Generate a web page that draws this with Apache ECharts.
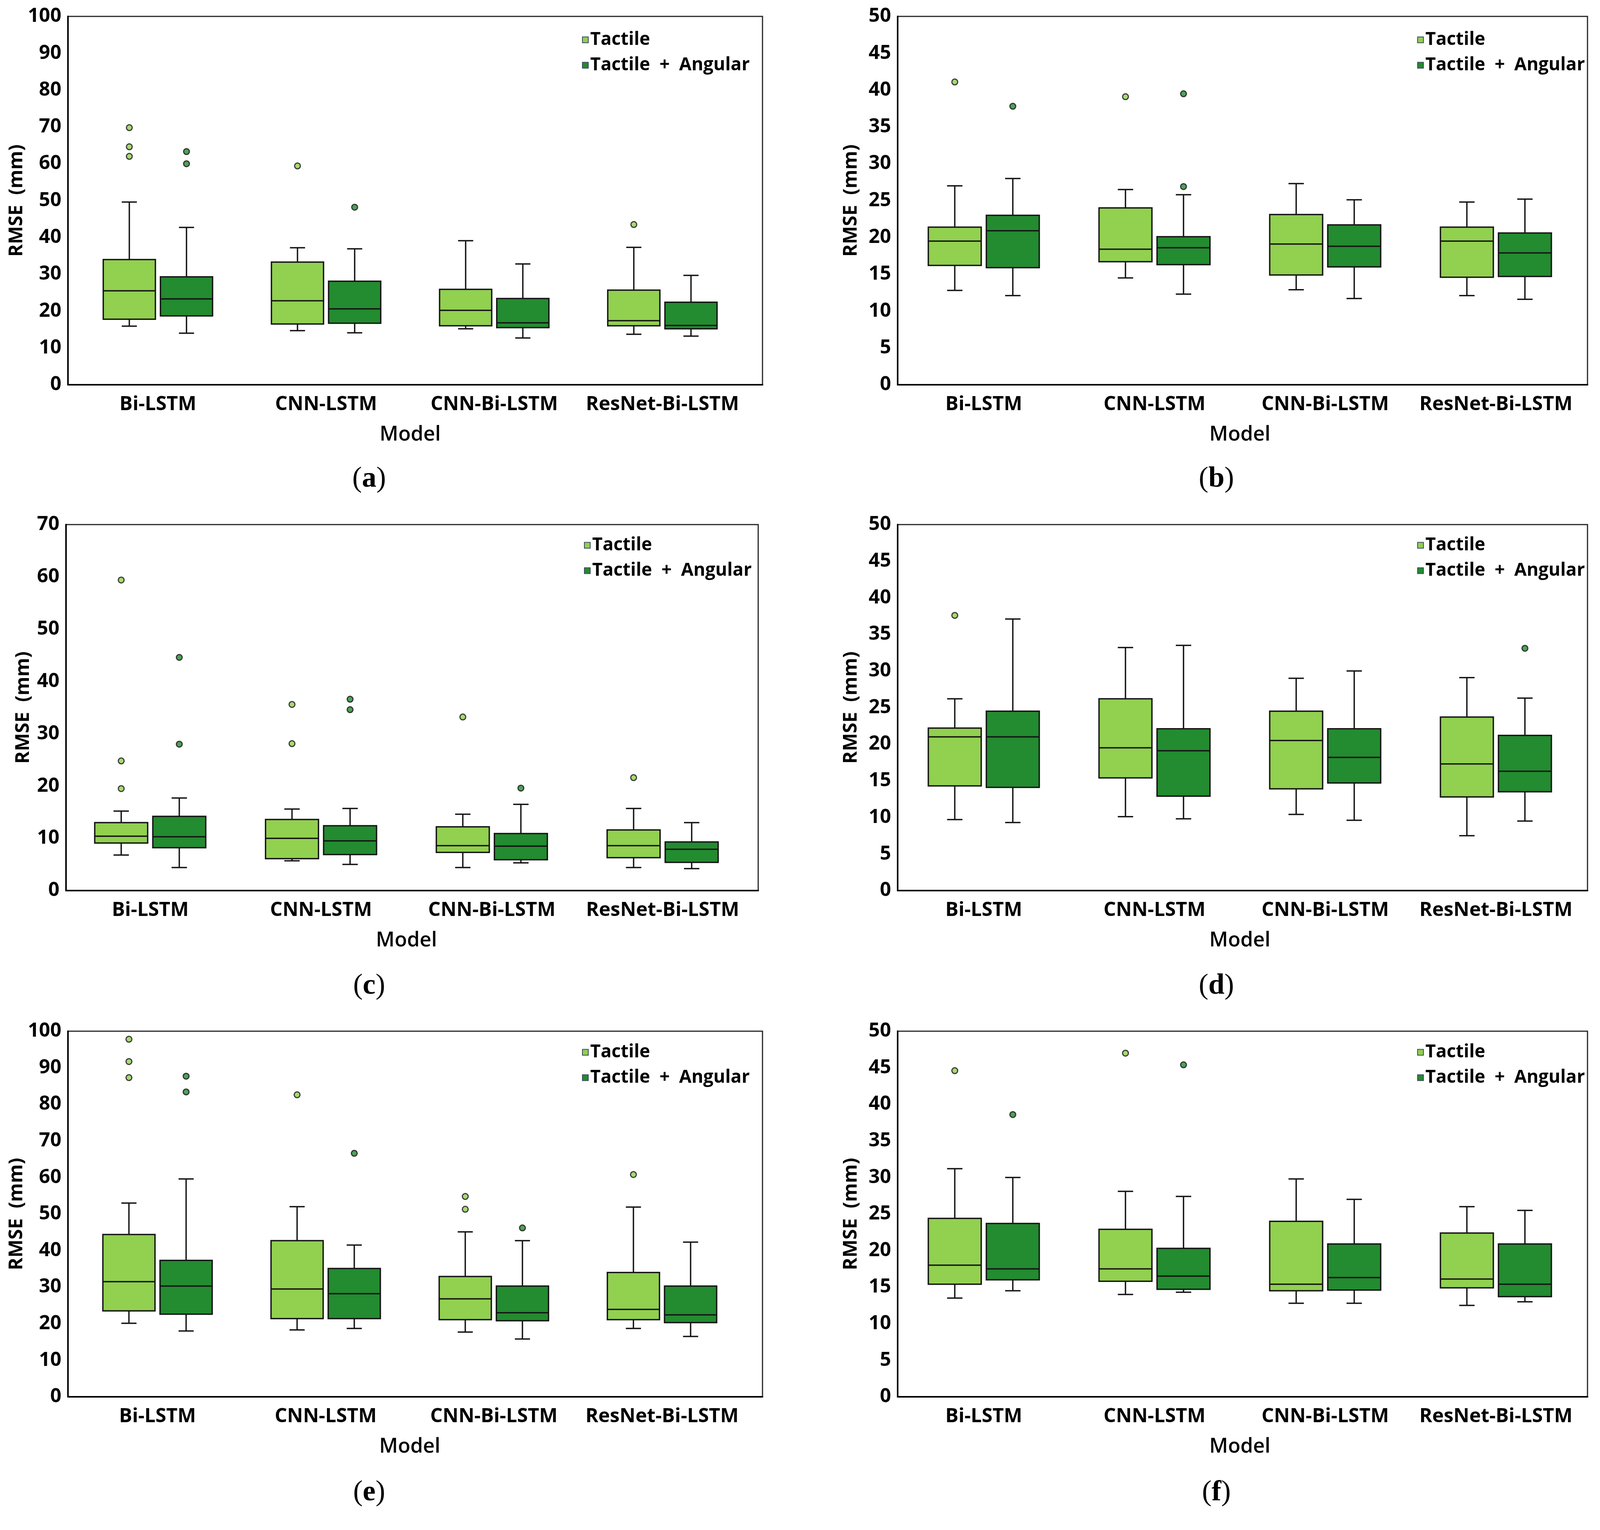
<!DOCTYPE html>
<html>
<head>
<meta charset="utf-8">
<script src="https://cdn.jsdelivr.net/npm/echarts@6/dist/echarts.min.js"></script>
<style>
html,body{margin:0;padding:0;background:#fff;}
#chart{width:4135px;height:3917px;}
</style>
</head>
<body>
<div id="chart"></div>
<script>
// ---------------- DATA ----------------
const categories = ['Bi-LSTM', 'CNN-LSTM', 'CNN-Bi-LSTM', 'ResNet-Bi-LSTM'];
const seriesNames = ['Tactile', 'Tactile + Angular'];
const panelLabels = ['a', 'b', 'c', 'd', 'e', 'f'];
const yMaxList = [100, 50, 70, 50, 100, 50];
const yStepList = [10, 5, 10, 5, 10, 5];

// each row: [lower whisker, Q1, median, Q3, upper whisker]
const aTactile = [[15.9,17.8,25.5,34.0,49.6],[14.7,16.5,22.8,33.3,37.2],[15.2,16.0,20.2,25.9,39.1],[13.7,16.0,17.4,25.7,37.3]];
const aTactileOut = [[69.8,64.6,62.0],[59.4],[],[43.5]];
const aAngular = [[14.0,18.7,23.3,29.3,42.7],[14.1,16.7,20.6,28.1,36.9],[12.7,15.5,16.8,23.4,32.8],[13.2,15.2,16.1,22.4,29.7]];
const aAngularOut = [[63.3,60.0],[48.2],[],[]];

const bTactile = [[12.8,16.2,19.5,21.4,27.0],[14.5,16.7,18.4,24.0,26.5],[12.9,14.9,19.1,23.1,27.3],[12.1,14.6,19.5,21.4,24.8]];
const bTactileOut = [[41.1],[39.1],[],[]];
const bAngular = [[12.1,15.9,20.9,23.0,28.0],[12.3,16.3,18.6,20.1,25.8],[11.7,16.0,18.8,21.7,25.1],[11.6,14.7,17.9,20.6,25.2]];
const bAngularOut = [[37.8],[39.5,26.9],[],[]];

const cTactile = [[6.8,9.1,10.4,13.0,15.2],[5.7,6.1,10.0,13.6,15.6],[4.4,7.3,8.6,12.2,14.6],[4.4,6.3,8.6,11.6,15.7]];
const cTactileOut = [[59.4,24.8,19.5],[35.6,28.1],[33.2],[21.6]];
const cAngular = [[4.4,8.2,10.3,14.2,17.7],[5.0,6.9,9.5,12.4,15.7],[5.3,5.9,8.5,10.9,16.5],[4.2,5.4,7.9,9.3,13.0]];
const cAngularOut = [[44.6,28.0],[36.6,34.6],[19.6],[]];

const dTactile = [[9.7,14.3,21.0,22.2,26.2],[10.1,15.4,19.5,26.2,33.2],[10.4,13.9,20.5,24.5,29.0],[7.5,12.8,17.3,23.7,29.1]];
const dTactileOut = [[37.6],[],[],[]];
const dAngular = [[9.3,14.1,21.0,24.5,37.1],[9.8,12.9,19.1,22.1,33.5],[9.6,14.7,18.2,22.1,30.0],[9.5,13.5,16.3,21.2,26.3]];
const dAngularOut = [[],[],[],[33.1]];

const eTactile = [[20.1,23.5,31.5,44.4,53.0],[18.3,21.4,29.5,42.7,52.0],[17.7,21.1,26.8,32.9,45.1],[18.7,21.1,23.9,34.0,51.9]];
const eTactileOut = [[97.8,91.7,87.3],[82.6],[54.8,51.3],[60.8]];
const eAngular = [[18.0,22.6,30.3,37.3,59.6],[18.7,21.4,28.2,35.1,41.5],[15.8,20.8,23.0,30.3,42.7],[16.5,20.3,22.4,30.3,42.3]];
const eAngularOut = [[87.7,83.4],[66.6],[46.2],[]];

const fTactile = [[13.5,15.4,18.0,24.4,31.2],[14.0,15.8,17.5,22.9,28.1],[12.8,14.5,15.4,24.0,29.8],[12.5,14.9,16.1,22.4,26.0]];
const fTactileOut = [[44.6],[47.0],[],[]];
const fAngular = [[14.5,16.0,17.5,23.7,30.0],[14.3,14.7,16.5,20.3,27.4],[12.8,14.6,16.3,20.9,27.0],[13.0,13.7,15.4,20.9,25.5]];
const fAngularOut = [[38.6],[45.4],[],[]];

const panelBoxes = [
  [aTactile, aAngular], [bTactile, bAngular], [cTactile, cAngular],
  [dTactile, dAngular], [eTactile, eAngular], [fTactile, fAngular]
];
const panelOutliers = [
  [aTactileOut, aAngularOut], [bTactileOut, bAngularOut], [cTactileOut, cAngularOut],
  [dTactileOut, dAngularOut], [eTactileOut, eAngularOut], [fTactileOut, fAngularOut]
];

// ---------------- STYLE / LAYOUT ----------------
const colors = ['#92D050', '#238B30'];
const FONT = '"Open Sans", "Noto Sans", sans-serif';
// frame (plot area) and the category area inside it
const frames = [
  {left: 174,  top: 42,   width: 1778, height: 943, dataLeft: 189,  dataWidth: 1722},
  {left: 2298, top: 42,   width: 1766, height: 943, dataLeft: 2300, dataWidth: 1748},
  {left: 169,  top: 1343, width: 1772, height: 937, dataLeft: 166,  dataWidth: 1749},
  {left: 2298, top: 1343, width: 1766, height: 937, dataLeft: 2300, dataWidth: 1748},
  {left: 174,  top: 2640, width: 1778, height: 936, dataLeft: 188,  dataWidth: 1722},
  {left: 2298, top: 2640, width: 1766, height: 936, dataLeft: 2300, dataWidth: 1748}
];
const yNameGap = [100, 94, 84, 94, 100, 94];
const legendPos = [
  {left: 1485, top: 72},
  {left: 3623, top: 72},
  {left: 1490, top: 1366},
  {left: 3623, top: 1366},
  {left: 1485, top: 2664},
  {left: 3623, top: 2664}
];
const captionPos = [[945, 1227], [3114, 1227], [945, 2525], [3114, 2525], [945, 3822], [3114, 3822]];

const OFFSET_FRAC = 0.17;  // box center offset from category center (fraction of band)
const BOX_FRAC = 0.31;     // box width (fraction of band)
const CAP_FRAC = 0.09;     // whisker cap width (fraction of band)

function makeRenderItem(side, color) {
  return function (params, api) {
    const cat = api.value(0);
    const band = api.size([1, 0])[0];
    const pLo = api.coord([cat, api.value(1)]);
    const pQ1 = api.coord([cat, api.value(2)]);
    const pMed = api.coord([cat, api.value(3)]);
    const pQ3 = api.coord([cat, api.value(4)]);
    const pHi = api.coord([cat, api.value(5)]);
    const cx = pLo[0] + side * band * OFFSET_FRAC;
    const bw = band * BOX_FRAC;
    const cap = band * CAP_FRAC;
    const ls = {stroke: '#151515', lineWidth: 3.5, fill: null};
    return {
      type: 'group',
      children: [
        {type: 'line', shape: {x1: cx, y1: pHi[1], x2: cx, y2: pQ3[1]}, style: ls},
        {type: 'line', shape: {x1: cx, y1: pLo[1], x2: cx, y2: pQ1[1]}, style: ls},
        {type: 'line', shape: {x1: cx - cap / 2, y1: pHi[1], x2: cx + cap / 2, y2: pHi[1]}, style: ls},
        {type: 'line', shape: {x1: cx - cap / 2, y1: pLo[1], x2: cx + cap / 2, y2: pLo[1]}, style: ls},
        {type: 'rect', shape: {x: cx - bw / 2, y: pQ3[1], width: bw, height: pQ1[1] - pQ3[1]},
          style: {fill: color, stroke: '#151515', lineWidth: 3.5}},
        {type: 'line', shape: {x1: cx - bw / 2, y1: pMed[1], x2: cx + bw / 2, y2: pMed[1]}, style: ls}
      ]
    };
  };
}

const option = {
  backgroundColor: '#ffffff',
  animation: false,
  grid: [], xAxis: [], yAxis: [], series: [], legend: [], graphic: []
};

for (let p = 0; p < 6; p++) {
  const f = frames[p];
  const gFrame = 2 * p, gData = 2 * p + 1;
  // frame grid: border + y axis + bottom axis line
  option.grid.push({
    left: f.left, top: f.top, width: f.width, height: f.height,
    show: true, borderColor: '#262626', borderWidth: 3, containLabel: false
  });
  // data grid: category area
  option.grid.push({
    left: f.dataLeft, top: f.top, width: f.dataWidth, height: f.height,
    show: false, containLabel: false
  });
  option.xAxis.push({
    type: 'value', gridIndex: gFrame, min: 0, max: 1,
    axisLine: {show: true, lineStyle: {color: '#000', width: 4}},
    axisTick: {show: false}, axisLabel: {show: false}, splitLine: {show: false}
  });
  option.xAxis.push({
    type: 'category', gridIndex: gData, data: categories,
    axisLine: {show: false}, axisTick: {show: false}, splitLine: {show: false},
    axisLabel: {fontFamily: FONT, fontWeight: 'bold', fontSize: 50, color: '#000', margin: 26, interval: 0},
    name: 'Model', nameLocation: 'middle', nameGap: 102,
    nameTextStyle: {fontFamily: FONT, fontWeight: 600, fontSize: 52, color: '#000'}
  });
  option.yAxis.push({
    type: 'value', gridIndex: gFrame, min: 0, max: yMaxList[p], interval: yStepList[p],
    axisLine: {show: true, lineStyle: {color: '#000', width: 4}},
    axisTick: {show: false},
    splitLine: {show: false},
    axisLabel: {fontFamily: FONT, fontWeight: 'bold', fontSize: 50, color: '#000', margin: 17},
    name: 'RMSE  (mm)', nameLocation: 'middle', nameRotate: 90, nameGap: yNameGap[p],
    nameTextStyle: {fontFamily: FONT, fontWeight: 'bold', fontSize: 49, color: '#000'}
  });
  option.yAxis.push({
    type: 'value', gridIndex: gData, min: 0, max: yMaxList[p], interval: yStepList[p],
    show: false
  });
  const band = f.dataWidth / categories.length;
  for (let s = 0; s < 2; s++) {
    const side = s === 0 ? -1 : 1;
    const boxes = panelBoxes[p][s];
    option.series.push({
      type: 'custom', name: seriesNames[s], xAxisIndex: gData, yAxisIndex: gData,
      itemStyle: {color: colors[s]},
      renderItem: makeRenderItem(side, colors[s]),
      encode: {x: 0, y: [1, 2, 3, 4, 5]},
      data: boxes.map((b, i) => [i].concat(b)),
      z: 2
    });
    const outs = [];
    panelOutliers[p][s].forEach((arr, i) => arr.forEach(v => outs.push([i, v])));
    option.series.push({
      type: 'scatter', name: seriesNames[s], xAxisIndex: gData, yAxisIndex: gData,
      symbol: 'circle', symbolSize: 15,
      symbolOffset: [side * band * OFFSET_FRAC, 0],
      itemStyle: {color: colors[s], borderColor: '#151515', borderWidth: 3},
      data: outs, z: 3
    });
  }
  option.legend.push({
    orient: 'vertical', left: legendPos[p].left, top: legendPos[p].top,
    icon: 'rect', itemWidth: 15, itemHeight: 15, itemGap: 15,
    selectedMode: false,
    itemStyle: {borderColor: '#3b4a5e', borderWidth: 2},
    textStyle: {fontFamily: FONT, fontWeight: 'bold', fontSize: 46, color: '#000', lineHeight: 50},
    formatter: name => name.replace(' + ', '  +  '),
    data: seriesNames.map((n, i) => ({name: n, itemStyle: {color: colors[i]}}))
  });
  option.graphic.push({
    type: 'text', x: captionPos[p][0], y: captionPos[p][1],
    style: {
      text: '{p|(}{b|' + panelLabels[p] + '}{p|)}',
      align: 'center', verticalAlign: 'middle',
      rich: {
        p: {fontFamily: '"Liberation Serif", "DejaVu Serif", serif', fontSize: 74, fontWeight: 'normal', fill: '#000'},
        b: {fontFamily: '"Liberation Serif", "DejaVu Serif", serif', fontSize: 74, fontWeight: 'bold', fill: '#000'}
      }
    }
  });
}

const chart = echarts.init(document.getElementById('chart'), null, {renderer: 'canvas', width: 4135, height: 3917});
chart.setOption(option);
</script>
</body>
</html>
